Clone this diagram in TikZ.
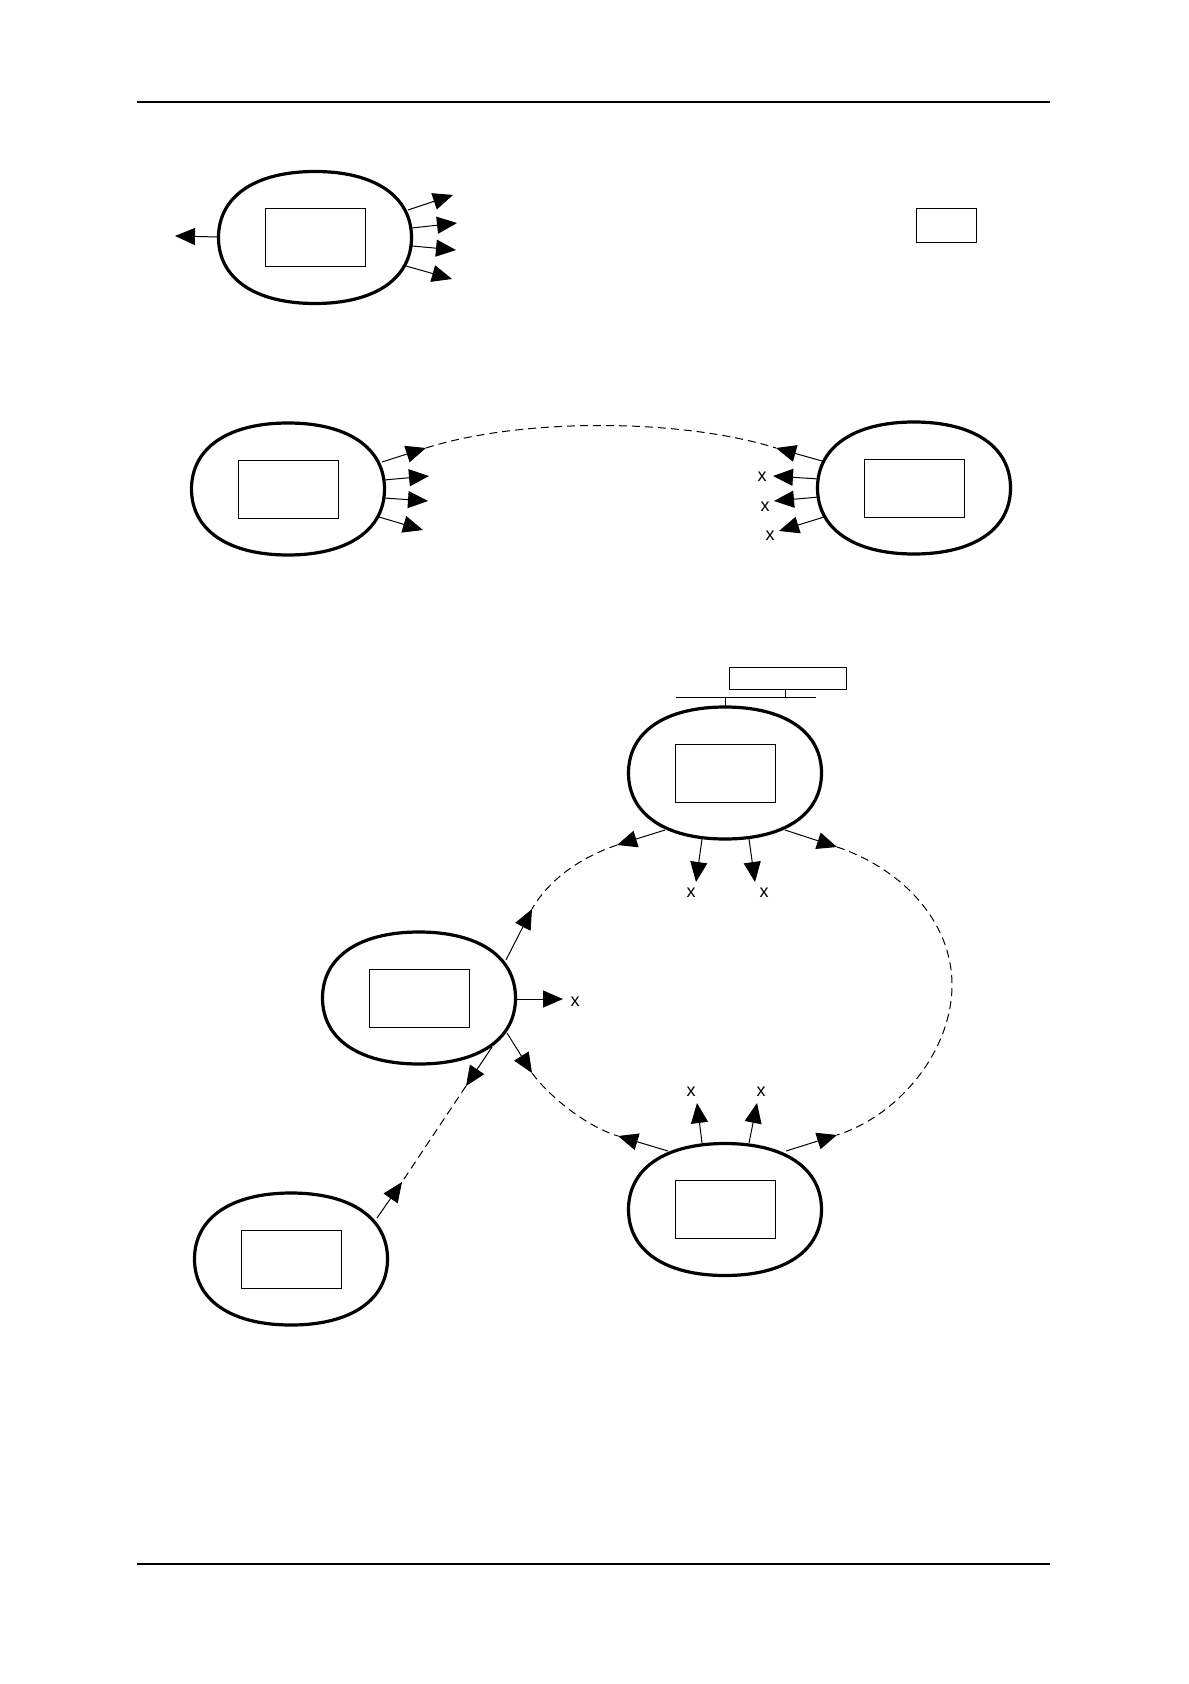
\documentclass[tikz,border=0pt]{standalone}
\usepackage{fontspec}
\setmainfont{Liberation Sans}
\usetikzlibrary{arrows.meta,calc}
\newcommand\drawoval[1]{\begin{scope}[shift={(#1)}]\draw[ovalline] (96.5,0) .. controls (96.5,41) and (60,66) .. (0,66) .. controls (-60,66) and (-96.5,41) .. (-96.5,0) .. controls (-96.5,-41) and (-60,-66) .. (0,-66) .. controls (60,-66) and (96.5,-41) .. (96.5,0) -- cycle;\end{scope}}
\begin{document}
\begin{tikzpicture}[x=0.5pt,y=-0.5pt,
  inbox/.style={draw,line width=0.5pt,minimum width=50pt,minimum height=29pt,inner sep=0pt},
  ovalline/.style={line width=1.6pt},
  arr/.style={line width=0.5pt,-{Triangle[length=10pt,width=8.5pt]}},
  dashlink/.style={line width=0.5pt,dash pattern=on 4pt off 2.5pt},
  lbl/.style={font=\fontsize{9}{10}\selectfont,inner sep=0pt},
  rulel/.style={line width=1.3pt}]
\useasboundingbox (0,0) rectangle (1188,1684);

% page rules
\coordinate (r1a) at (137,102); \coordinate (r1b) at (1050,102);
\coordinate (r2a) at (137,1564); \coordinate (r2b) at (1050,1564);
\draw[rulel] (r1a) -- (r1b);
\draw[rulel] (r2a) -- (r2b);

% ovals with inner boxes
\node[inbox] (A) at (315,237.5) {}; \drawoval{A.center}
\node[inbox] (B) at (288,489) {};   \drawoval{B.center}
\node[inbox] (C) at (914,488) {};   \drawoval{C.center}
\node[inbox] (D) at (725,773) {};   \drawoval{D.center}
\node[inbox] (E) at (419,998) {};   \drawoval{E.center}
\node[inbox] (F) at (725,1209.5) {};\drawoval{F.center}
\node[inbox] (G) at (291,1259) {};  \drawoval{G.center}

% legend box
\node[draw,line width=0.5pt,minimum width=30pt,minimum height=17pt,inner sep=0pt] (L) at (946,226) {};

% bus above D
\node[draw,line width=0.5pt,minimum width=58.5pt,minimum height=11pt,inner sep=0pt] (T) at (787.5,678) {};
\coordinate (busl) at (676,697); \coordinate (busr) at (816,697);
\coordinate (busD) at (725,697); \coordinate (busT) at (785,697);
\coordinate (Dtop) at (725,707); \coordinate (Tbot) at (785,689);
\draw[line width=0.5pt] (busl) -- (busr);
\draw[line width=0.5pt] (busD) -- (Dtop);
\draw[line width=0.5pt] (busT) -- (Tbot);

% A arrows
\coordinate (A0s) at (218,237); \coordinate (A0t) at (175,236);
\coordinate (A1s) at (408,210); \coordinate (A1t) at (453,195);
\coordinate (A2s) at (412,228); \coordinate (A2t) at (457,223);
\coordinate (A3s) at (412,246); \coordinate (A3t) at (456,250);
\coordinate (A4s) at (406,266); \coordinate (A4t) at (452,279);
\foreach \i in {0,...,4} {\draw[arr] (A\i s) -- (A\i t);}

% B arrows
\coordinate (B1s) at (382,462); \coordinate (B1t) at (426,448);
\coordinate (B2s) at (384,480); \coordinate (B2t) at (429,476);
\coordinate (B3s) at (384,498); \coordinate (B3t) at (428,501);
\coordinate (B4s) at (379,517); \coordinate (B4t) at (423,530);
\foreach \i in {1,...,4} {\draw[arr] (B\i s) -- (B\i t);}

% C arrows
\coordinate (C1s) at (822,461); \coordinate (C1t) at (776,448);
\coordinate (C2s) at (819,479); \coordinate (C2t) at (773,476);
\coordinate (C3s) at (819,497); \coordinate (C3t) at (774,501);
\coordinate (C4s) at (824,517); \coordinate (C4t) at (779,531);
\foreach \i in {1,...,4} {\draw[arr] (C\i s) -- (C\i t);}
\node[lbl] (cx2) at (762,477) {x};
\node[lbl] (cx3) at (765,507) {x};
\node[lbl] (cx4) at (770,536) {x};

\draw[dashlink] (B1t) .. controls (520,418) and (680,418) .. (C1t);

% D arrows
\coordinate (DLs) at (665,830); \coordinate (DLt) at (617,845);
\coordinate (DRs) at (785,830); \coordinate (DRt) at (837,847);
\coordinate (D1s) at (702,839); \coordinate (D1t) at (696,882);
\coordinate (D2s) at (749,839); \coordinate (D2t) at (755,882);
\draw[arr] (DLs) -- (DLt);
\draw[arr] (DRs) -- (DRt);
\draw[arr] (D1s) -- (D1t);
\draw[arr] (D2s) -- (D2t);
\node[lbl] (dx1) at (691,893) {x};
\node[lbl] (dx2) at (764,893) {x};

% E arrows
\coordinate (EUs) at (506,960);  \coordinate (EUt) at (532,909);
\coordinate (ERs) at (515,999);  \coordinate (ERt) at (563,999);
\coordinate (EDRs) at (507,1033); \coordinate (EDRt) at (532,1073);
\coordinate (EDLs) at (492,1047); \coordinate (EDLt) at (466,1086);
\draw[arr] (EUs) -- (EUt);
\draw[arr] (ERs) -- (ERt);
\draw[arr] (EDRs) -- (EDRt);
\draw[arr] (EDLs) -- (EDLt);
\node[lbl] (ex) at (575,1002) {x};

% F arrows
\coordinate (F1s) at (702,1143); \coordinate (F1t) at (697,1103);
\coordinate (F2s) at (749,1143); \coordinate (F2t) at (757,1103);
\coordinate (FLs) at (668,1151); \coordinate (FLt) at (618,1136);
\coordinate (FRs) at (786,1151); \coordinate (FRt) at (837,1135);
\draw[arr] (F1s) -- (F1t);
\draw[arr] (F2s) -- (F2t);
\draw[arr] (FLs) -- (FLt);
\draw[arr] (FRs) -- (FRt);
\node[lbl] (fx1) at (691,1092) {x};
\node[lbl] (fx2) at (761,1092) {x};

% G arrow
\coordinate (Gs) at (377,1218); \coordinate (Gt) at (402,1182);
\draw[arr] (Gs) -- (Gt);

% dashed links
\coordinate (ringR) at (952,985);
\draw[dashlink] (DLt) .. controls (582,857) and (550,878) .. (EUt);
\draw[dashlink] (DRt) .. controls (900,868) and (952,920) .. (ringR) .. controls (952,1050) and (900,1115) .. (FRt);
\draw[dashlink] (EDRt) .. controls (548,1095) and (585,1126) .. (FLt);
\draw[dashlink] (EDLt) -- (Gt);
\end{tikzpicture}
\end{document}
